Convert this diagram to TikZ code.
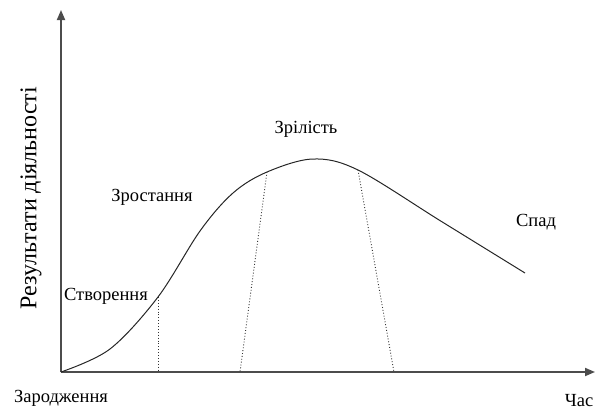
\documentclass[tikz,border=0pt]{standalone}
\usepackage{fontspec}
\setmainfont{Liberation Serif}
\usetikzlibrary{arrows.meta}
\begin{document}
\begin{tikzpicture}[x=1pt,y=-1pt,
  axis/.style={line width=1.8pt, draw=black!70, -{Triangle[length=10pt,width=8pt]}},
  curve/.style={line width=1pt, draw=black!85},
  guide/.style={line width=0.9pt, dotted, draw=black!80},
  lbl/.style={font=\fontsize{18.5}{21}\selectfont, inner sep=0pt}]
\useasboundingbox (0,0) rectangle (603,410);
\coordinate (O) at (61,372);
\coordinate (Ytop) at (61,10);
\coordinate (Xend) at (595,372);
\draw[axis] (O) -- (Ytop);
\draw[axis] (O) -- (Xend);
% curve
\coordinate (c1) at (158,297);
\coordinate (c2) at (267,172);
\coordinate (c3) at (358,170);
\coordinate (cend) at (525,273);
\draw[curve] plot[smooth, tension=0.55] coordinates {(61,372) (110,349) (158,297) (200,231) (233,193) (267,172) (313,159) (358,170) (441.5,221.5) (525,273)};
% guides
\coordinate (g1) at (158,372);
\coordinate (g2) at (240,372);
\coordinate (g3) at (394,372);
\draw[guide] (c1) -- (g1);
\draw[guide] (c2) -- (g2);
\draw[guide] (c3) -- (g3);
% labels
\node[lbl] (zrost) at (152,197) {Зростання};
\node[lbl] (stvor) at (106,296) {Створення};
\node[lbl] (zril) at (306,129) {Зрілість};
\node[lbl] (spad) at (536,222) {Спад};
\node[lbl] (zarod) at (61,398) {Зародження};
\node[lbl] (chas) at (579,401) {Час};
\node[font=\fontsize{24}{28}\selectfont, inner sep=0pt, rotate=90] (ylab) at (31,198) {Результати діяльності};
\end{tikzpicture}
\end{document}
